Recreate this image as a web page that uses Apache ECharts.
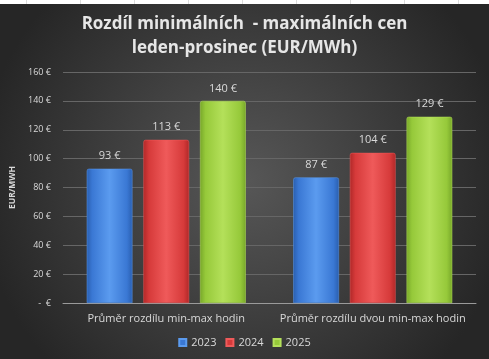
<!DOCTYPE html>
<html><head><meta charset="utf-8">
<script src="https://cdn.jsdelivr.net/npm/echarts@6/dist/echarts.min.js"></script>
<style>
html,body{margin:0;padding:0;background:#fff;width:489px;height:359px;overflow:hidden}
#strip{position:absolute;left:0;top:0;width:489px;height:4px;background:#fff;
 background-image:repeating-linear-gradient(90deg,transparent 0,transparent 26px,#dcdcdc 26px,#dcdcdc 27px,transparent 27px,transparent 54px);}
#c{position:absolute;left:0;top:4px;width:489px;height:355px}
</style></head><body>
<div id="strip"></div>
<div id="c"></div>
<script>
const categories = ['Průměr rozdílu min-max hodin', 'Průměr rozdílu dvou min-max hodin'];
const years = ['2023', '2024', '2025'];
const values2023 = [93, 87];
const values2024 = [113, 104];
const values2025 = [140, 129];
const titleLines = ['Rozdíl minimálních  - maximálních cen', 'leden-prosinec (EUR/MWh)'];

const colors = [
  ['#5b9bef', '#3a78d4', '#2a5fb0'],
  ['#ef5a5a', '#d63a3a', '#b02828'],
  ['#b4e05a', '#96c93a', '#78a82a']
];
function grad(c){
  return new echarts.graphic.LinearGradient(0,0,1,0,[
    {offset:0,color:c[2]},{offset:0.12,color:c[1]},{offset:0.5,color:c[0]},{offset:0.88,color:c[1]},{offset:1,color:c[2]}
  ]);
}
const chart = echarts.init(document.getElementById('c'), null, {renderer:'canvas'});
const seriesData = [values2023, values2024, values2025];
chart.setOption({
  backgroundColor: new echarts.graphic.RadialGradient(0.5,0.5,0.75,[
    {offset:0,color:'#575757'},{offset:1,color:'#262626'}
  ]),
  animation:false,
  title:{
    text: titleLines.join('\n'),
    left:'center', top:3,
    textStyle:{color:'#e6e6e6',fontFamily:'Open Sans',fontWeight:'bold',fontSize:17,lineHeight:24}
  },
  legend:{
    data: years.map((y,i)=>({name:y, itemStyle:{color:colors[i][1]}})),
    bottom:6, left:'center', itemWidth:7, itemHeight:7, itemGap:9,
    icon:'rect',
    textStyle:{color:'#d9d9d9',fontFamily:'Open Sans',fontSize:11}
  },
  grid:{left:63, right:13, top:68, bottom:56, containLabel:false},
  xAxis:{
    type:'category', data:categories,
    axisLine:{lineStyle:{color:'#9a9a9a'}},
    axisTick:{show:false},
    axisLabel:{color:'#d9d9d9',fontFamily:'Open Sans',fontSize:11,margin:10,interval:0}
  },
  yAxis:{
    type:'value', min:0, max:160, interval:20,
    name:'EUR/MWH', nameLocation:'middle', nameGap:38, nameRotate:90,
    nameTextStyle:{color:'#d9d9d9',fontFamily:'Open Sans',fontWeight:'bold',fontSize:8.5},
    axisLine:{show:false}, axisTick:{show:false},
    splitLine:{lineStyle:{color:'#666666',width:1}},
    axisLabel:{color:'#d9d9d9',fontFamily:'Open Sans',fontSize:9,margin:12,
      formatter:v=> v===0 ? '-  €' : v+' €'}
  },
  series: years.map((y,i)=>({
    name:y, type:'bar', data:seriesData[i],
    barGap:'24%', barCategoryGap:'23%',
    itemStyle:{color:grad(colors[i]), borderColor:colors[i][0], borderWidth:0.5, borderRadius:[2,2,0,0]},
    label:{show:true, position:'top', distance:7, color:'#d9d9d9', fontFamily:'Open Sans', fontSize:11,
      formatter:p=>p.value+' €'}
  }))
});
</script>
</body></html>
